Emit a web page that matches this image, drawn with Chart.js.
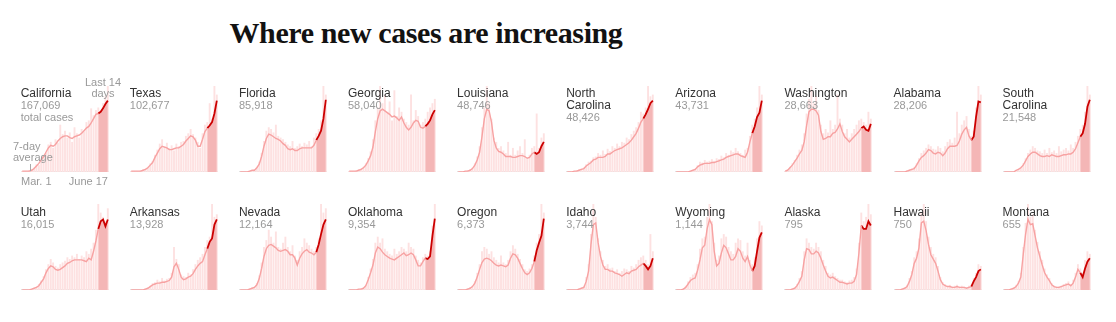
<!DOCTYPE html>
<html><head><meta charset="utf-8">
<script src="https://cdn.jsdelivr.net/npm/chart.js@4"></script>
<style>
html,body{margin:0;padding:0;background:#fff;}
body{width:1116px;height:322px;position:relative;overflow:hidden;font-family:"Liberation Sans",Arial,sans-serif;}
#title{position:absolute;left:0;width:852px;top:18px;text-align:center;font-family:"Liberation Serif",serif;font-weight:bold;font-size:30px;line-height:30px;letter-spacing:-0.4px;color:#121212;}
.panel{position:absolute;width:88px;height:86px;}
.lab{position:absolute;line-height:12px;white-space:nowrap;z-index:5;}
.nm{font-size:12px;color:#333;}
.ct{font-size:11px;color:#999;}
.note{position:absolute;font-size:11px;color:#999;line-height:11px;white-space:nowrap;z-index:5;}
</style></head><body>
<div id="title">Where new cases are increasing</div>
<div class="note" style="left:78px;width:50px;top:77px;text-align:center;">Last 14<br>days</div>
<div class="note" style="left:13px;top:141px;">7-day<br>average</div>
<div style="position:absolute;left:30px;top:164px;width:1px;height:7px;background:#aaa;z-index:5;"></div>
<div class="note" style="left:21px;top:176px;">Mar. 1</div>
<div class="note" style="left:58px;width:50px;top:176px;text-align:right;">June 17</div>
<script>
// 3-day samples, Mar. 1 .. June 17, height as % of each panel's max daily count
const avgCA = [1,1,1,1,2,4,7,10,14,18,23,28,31,30,32,36,39,41,42,42,40,39,41,42,43,45,48,51,53,57,62,67,68,70,74,79,83];
const dayCA = [1,1,1,2,3,5,9,8,16,20,22,32,35,28,38,34,55,44,48,40,46,35,52,45,40,50,47,58,60,74,66,72,75,70,80,88,100];
const avgTX = [1,1,1,1,1,2,3,5,8,11,17,22,27,30,29,28,26,26,27,28,28,30,32,36,39,42,41,37,30,30,38,47,51,54,58,68,83];
const dayTX = [1,1,1,1,2,3,4,6,10,13,20,26,33,38,30,34,28,31,25,33,30,35,36,42,45,50,44,40,35,28,45,55,58,80,62,100,90];
const avgFL = [0,0,0,0,1,2,2,5,9,18,30,39,44,43,41,39,38,36,33,31,27,26,27,25,25,27,28,28,28,28,28,31,37,42,48,62,84];
const dayFL = [0,0,0,1,1,2,3,6,12,22,36,48,52,50,46,55,42,40,38,35,32,30,36,28,30,33,30,34,32,36,30,40,45,50,60,100,90];
const avgGA = [1,1,1,1,2,3,5,8,13,19,29,47,62,71,73,71,69,67,64,65,63,60,64,57,52,49,52,57,60,59,52,51,53,56,60,67,72];
const dayGA = [1,1,1,2,3,4,6,10,16,24,38,60,75,100,80,90,70,82,60,95,65,75,70,62,58,55,90,60,72,65,55,58,62,70,75,80,85];
const avgLA = [0,0,0,1,1,2,4,8,14,23,41,62,73,71,58,37,28,24,23,21,18,18,18,17,17,18,19,19,18,16,17,21,23,21,23,30,35];
const dayLA = [0,0,1,1,2,3,5,10,18,30,52,75,100,80,62,40,35,28,30,25,22,35,20,28,20,25,30,22,38,15,20,28,30,68,28,40,45];
const avgNC = [0,0,0,1,1,2,3,4,7,9,11,14,15,17,17,17,18,21,21,23,25,26,27,28,30,32,34,37,41,45,51,58,62,67,73,80,83];
const dayNC = [0,0,1,1,2,3,4,5,9,12,13,17,18,22,20,25,21,27,24,30,28,33,30,35,34,40,38,44,48,52,58,70,68,75,100,88,90];
const avgAZ = [0,0,0,0,0,0,1,2,3,6,8,9,10,10,10,11,11,12,13,14,15,17,18,19,20,21,21,19,18,17,23,35,45,53,64,69,83];
const dayAZ = [0,0,0,0,0,1,1,2,4,8,12,11,14,12,13,15,13,16,15,19,17,22,20,25,23,28,24,22,20,26,28,42,55,62,75,100,90];
const avgWA = [1,2,5,8,12,16,21,25,35,54,70,73,73,71,66,47,38,39,41,41,45,46,50,56,47,41,38,35,38,41,44,47,51,53,49,48,56];
const dayWA = [1,3,6,10,14,20,26,32,45,68,85,100,80,88,72,55,45,50,46,60,50,55,90,62,55,45,50,40,45,50,55,60,62,58,55,70,62];
const avgAL = [0,0,0,0,0,1,2,3,4,8,13,17,19,22,26,25,22,21,23,22,19,22,27,30,30,30,31,36,44,49,52,42,37,41,64,82,81];
const dayAL = [0,0,0,0,1,2,3,4,6,10,16,22,25,28,32,30,27,26,30,28,24,30,35,38,34,40,70,45,55,60,65,50,42,48,75,100,90];
const avgSC = [0,0,0,0,0,2,3,5,8,13,18,21,23,23,21,19,18,18,19,18,20,19,18,18,19,20,20,21,21,23,27,34,41,45,56,76,84];
const daySC = [0,0,0,0,1,2,4,6,10,16,22,26,30,28,25,24,22,26,22,28,23,25,22,30,24,26,28,25,32,28,35,42,50,55,70,100,90];
const avgUT = [0,0,0,0,1,2,3,5,9,13,20,25,28,27,24,23,24,26,28,31,32,34,35,35,35,35,34,33,37,35,45,57,71,80,82,74,82];
const dayUT = [0,0,0,1,1,2,4,7,11,16,24,30,36,32,28,26,30,32,34,38,36,40,38,42,36,40,38,45,42,48,55,70,100,90,85,80,95];
const avgAR = [0,0,0,0,0,0,1,2,4,6,7,8,8,9,9,10,11,15,27,31,24,15,12,13,15,16,19,24,28,31,33,41,48,56,60,76,82];
const dayAR = [0,0,0,0,0,1,2,3,5,8,9,12,10,14,11,13,14,20,50,36,30,18,16,15,20,18,24,30,35,38,42,50,58,62,100,85,88];
const avgNV = [0,0,0,0,1,2,3,6,13,25,39,48,52,53,51,49,46,45,46,47,45,41,41,37,29,37,42,45,47,44,43,41,44,53,65,76,82];
const dayNV = [0,0,0,1,2,3,4,8,17,32,50,58,70,62,55,68,50,48,55,62,50,45,52,40,35,45,50,60,55,52,48,45,50,60,100,90,95];
const avgOK = [0,0,0,0,1,1,2,5,12,20,29,43,50,48,44,41,39,37,36,35,37,39,41,43,40,41,43,41,35,28,28,33,37,36,39,63,83];
const dayOK = [0,0,0,1,1,2,3,6,15,25,36,55,62,55,60,48,45,42,40,48,42,45,50,48,45,55,50,48,40,35,32,38,42,40,45,75,100];
const avgOR = [0,0,0,0,1,2,4,8,15,24,32,36,37,36,34,31,29,28,29,28,27,29,37,42,41,37,31,25,20,18,20,25,33,46,55,63,83];
const dayOR = [0,0,1,1,2,3,5,10,20,30,45,50,48,42,45,38,35,32,40,32,30,35,45,52,48,42,36,30,24,22,25,30,40,55,65,100,90];
const avgID = [0,0,0,0,0,1,2,3,10,22,53,76,78,55,39,29,24,24,22,22,20,19,18,16,18,20,19,22,23,24,27,29,31,28,24,28,37];
const dayID = [0,0,0,0,1,2,3,5,15,30,65,100,85,60,45,35,28,30,25,26,22,24,20,22,25,24,22,28,26,30,35,38,40,35,30,65,45];
const avgWY = [0,0,0,1,3,7,11,13,14,23,35,49,52,71,82,76,45,28,31,43,52,49,42,35,35,39,48,45,37,33,39,29,22,28,45,61,67];
const dayWY = [0,0,1,2,5,10,15,18,20,30,48,60,62,85,100,80,55,35,40,60,65,62,50,45,42,55,60,58,45,40,55,35,30,38,60,80,75];
const avgAK = [0,0,0,1,2,5,10,16,35,48,47,42,42,45,43,37,29,22,16,14,15,13,11,9,9,8,7,8,8,10,18,43,75,71,71,80,75];
const dayAK = [0,0,1,2,3,7,14,22,45,60,55,50,48,55,50,45,35,28,20,18,20,16,14,12,12,10,9,11,12,15,25,55,90,80,85,100,88];
const avgHI = [0,0,0,1,2,4,10,18,31,37,49,78,80,69,53,41,36,31,22,12,7,5,4,4,3,3,4,3,3,3,2,3,4,10,15,22,24];
const dayHI = [0,0,1,2,3,6,14,22,38,45,60,90,100,80,62,50,42,38,28,15,9,7,5,6,4,5,6,4,5,4,3,5,6,14,20,30,28];
const avgMT = [0,0,0,1,2,4,8,15,41,65,82,76,77,63,49,39,29,20,15,11,6,4,3,3,4,5,6,7,5,8,15,24,20,15,25,33,37];
const dayMT = [0,0,1,2,3,6,10,20,50,78,100,85,88,70,56,45,35,25,18,14,8,5,4,4,5,7,8,10,7,12,20,30,25,20,35,45,42];

const stateNames = ["California","Texas","Florida","Georgia","Louisiana","North<br>Carolina","Arizona","Washington","Alabama","South<br>Carolina",
  "Utah","Arkansas","Nevada","Oklahoma","Oregon","Idaho","Wyoming","Alaska","Hawaii","Montana"];
const totalCases = ["167,069","102,677","85,918","58,040","48,746","48,426","43,731","28,663","28,206","21,548",
  "16,015","13,928","12,164","9,354","6,373","3,744","1,144","795","750","655"];
const avgSeries = [avgCA,avgTX,avgFL,avgGA,avgLA,avgNC,avgAZ,avgWA,avgAL,avgSC,avgUT,avgAR,avgNV,avgOK,avgOR,avgID,avgWY,avgAK,avgHI,avgMT];
const daySeries = [dayCA,dayTX,dayFL,dayGA,dayLA,dayNC,dayAZ,dayWA,dayAL,daySC,dayUT,dayAR,dayNV,dayOK,dayOR,dayID,dayWY,dayAK,dayHI,dayMT];
const LAST14_SAMPLES = 5;

const baselinePlugin = {id:'baseline', beforeDatasetsDraw(chart){
  const {ctx, chartArea:a, scales:{y}} = chart;
  const yy = Math.round(y.getPixelForValue(0)) - 0.5;
  ctx.save(); ctx.strokeStyle='#e2e2e2'; ctx.lineWidth=1;
  ctx.beginPath(); ctx.moveTo(a.left, yy); ctx.lineTo(a.right, yy); ctx.stroke(); ctx.restore();
}};

const colLeft = c => 20.7 + 109.1*c;
const rowTop = [86, 204];
const labTop = [87, 205.5];

avgSeries.forEach((avg, k) => {
  const row = Math.floor(k/10), col = k%10;
  const left = colLeft(col);
  const div = document.createElement('div');
  div.className = 'panel';
  div.style.left = left + 'px'; div.style.top = rowTop[row] + 'px';
  const cv = document.createElement('canvas');
  div.appendChild(cv); document.body.appendChild(div);

  const lab = document.createElement('div');
  lab.className = 'lab';
  lab.style.left = left + 'px'; lab.style.top = labTop[row] + 'px';
  lab.innerHTML = '<div class="nm">' + stateNames[k] + '</div><div class="ct">' + totalCases[k] + '</div>' +
    (k === 0 ? '<div class="ct">total cases</div>' : '');
  document.body.appendChild(lab);

  const n = avg.length, split = n - LAST14_SAMPLES;
  const pre = avg.map((v,i) => i <= split ? v : null);
  const last = avg.map((v,i) => i >= split ? v : null);
  new Chart(cv, {
    type: 'bar',
    data: { labels: avg.map((_, i) => i), datasets: [
      {type:'line', data: pre, borderColor:'#f7a2a2', borderWidth:1.4, pointRadius:0, fill:false, order:1, tension:0},
      {type:'line', data: last, borderColor:'#cc0000', borderWidth:1.8, pointRadius:0, fill:'origin', backgroundColor:'#f4b6b6', order:2, tension:0},
      {type:'bar', data: daySeries[k], backgroundColor:'#fde1e1', barPercentage:1, categoryPercentage:0.8, order:3}
    ]},
    options: {
      responsive:true, maintainAspectRatio:false, animation:false, events:[],
      layout:{padding:0},
      plugins:{legend:{display:false}, tooltip:{enabled:false}},
      scales:{x:{display:false}, y:{display:false, min:0, max:100}}
    },
    plugins:[baselinePlugin]
  });
});
</script>
</body></html>
